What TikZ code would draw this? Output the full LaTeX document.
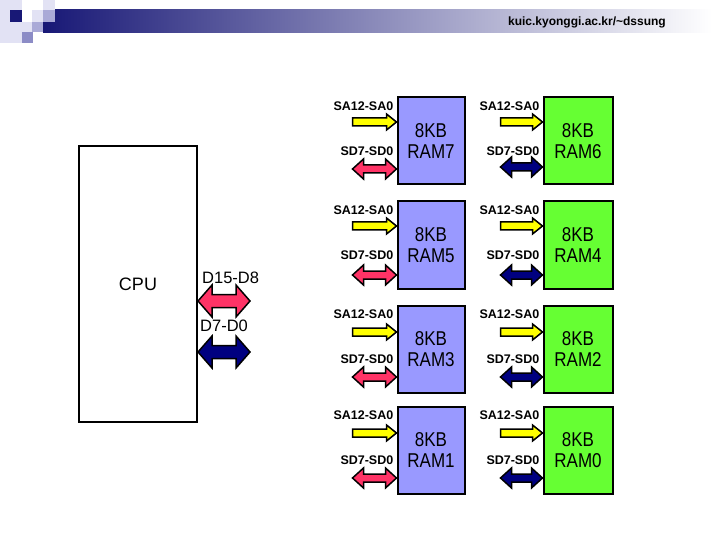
\documentclass[tikz,border=0pt]{standalone}
\usepackage{fontspec}
\setmainfont{Liberation Sans}
\newfontfamily\ramfont[FakeStretch=0.85]{Liberation Sans}
\usetikzlibrary{calc}
\definecolor{ramBlue}{RGB}{153,153,255}
\definecolor{ramGreen}{RGB}{102,255,51}
\definecolor{busYellow}{RGB}{255,255,0}
\definecolor{busRed}{RGB}{255,51,102}
\definecolor{busNavy}{RGB}{0,0,128}
\definecolor{headNavy}{RGB}{24,24,118}
\definecolor{tileLight}{RGB}{226,226,244}
\definecolor{tileMid}{RGB}{170,170,215}
\definecolor{tileDark}{RGB}{140,140,198}

\tikzset{
  fatbus/.style n args={3}{draw=black, line width=1.5pt, line join=miter,
    to path={let \p1=(\tikztostart), \p2=(\tikztotarget) in
      (\x1,\y1) -- (\x1+#3,\y1+#2) -- (\x1+#3,\y1+#1) -- (\x2-#3,\y1+#1) -- (\x2-#3,\y1+#2)
      -- (\x2,\y1) -- (\x2-#3,\y1-#2) -- (\x2-#3,\y1-#1) -- (\x1+#3,\y1-#1) -- (\x1+#3,\y1-#2) -- cycle}},
  databus/.style={fatbus={4pt}{10pt}{11pt}},
  cpubus/.style={fatbus={6.5pt}{16pt}{14pt}},
  addrbus/.style={draw=black, line width=1.5pt, line join=miter, fill=busYellow,
    to path={let \p1=(\tikztostart), \p2=(\tikztotarget) in
      (\x1,\y1+4pt) -- (\x2-10pt,\y1+4pt) -- (\x2-10pt,\y1+8pt) -- (\x2,\y1)
      -- (\x2-10pt,\y1-8pt) -- (\x2-10pt,\y1-4pt) -- (\x1,\y1-4pt) -- cycle}},
  ram/.style={draw=black, line width=2pt, minimum width=67pt, minimum height=87pt, align=center,
    font=\ramfont\fontsize{20}{21}\selectfont},
  lbl/.style={font=\bfseries\fontsize{12.5}{13}\selectfont, inner sep=0pt, anchor=east}
}

\begin{document}
\begin{tikzpicture}[x=1pt, y=-1pt]
  \useasboundingbox (0,0) rectangle (720,540);

  % Title bar
  \shade[left color=headNavy, right color=white] (43,10) rectangle (712,33);
  \fill[tileLight] (0,0) rectangle (22,43);
  \fill[headNavy] (10,10) rectangle (22,22);
  \fill[tileLight] (32,10) rectangle (43,22);
  \fill[tileLight] (43,0) rectangle (55,10);
  \fill[tileMid] (43,10) rectangle (55,22);
  \fill[tileLight] (22,22) rectangle (32,32);
  \fill[tileMid] (32,22) rectangle (43,32);
  \fill[tileDark] (22,32) rectangle (33,43);
  \node[font=\bfseries\fontsize{12}{12}\selectfont, anchor=east, inner sep=0pt] (url) at (666,22) {kuic.kyonggi.ac.kr/\textasciitilde dssung};

  % CPU
  \node[draw=black, line width=2pt, minimum width=118pt, minimum height=276pt, font=\fontsize{18}{18}\selectfont] (cpu) at (138,284) {CPU};
  \node[font=\fontsize{16.5}{17}\selectfont, anchor=west, inner sep=0pt] (hibyte) at ([xshift=4pt,yshift=6pt]cpu.east) {D15-D8};
  \node[font=\fontsize{16.5}{17}\selectfont, anchor=west, inner sep=0pt] (lobyte) at ([xshift=2pt,yshift=-42pt]cpu.east) {D7-D0};
  \path[cpubus, fill=busRed] ([yshift=-17pt]cpu.east) to ([xshift=52pt,yshift=-17pt]cpu.east);
  \path[cpubus, fill=busNavy] ([yshift=-68pt]cpu.east) to ([xshift=52pt,yshift=-68pt]cpu.east);

  % RAM boxes
  \node[ram, fill=ramBlue] (ram7) at (431,141) {8KB\\RAM7};
  \node[ram, fill=ramGreen, minimum width=69pt] (ram6) at (578,141) {8KB\\RAM6};
  \node[ram, fill=ramBlue] (ram5) at (431,245) {8KB\\RAM5};
  \node[ram, fill=ramGreen, minimum width=69pt] (ram4) at (578,245) {8KB\\RAM4};
  \node[ram, fill=ramBlue] (ram3) at (431,349) {8KB\\RAM3};
  \node[ram, fill=ramGreen, minimum width=69pt] (ram2) at (578,349) {8KB\\RAM2};
  \node[ram, fill=ramBlue] (ram1) at (431,450) {8KB\\RAM1};
  \node[ram, fill=ramGreen, minimum width=69pt] (ram0) at (578,450) {8KB\\RAM0};

  % Bus labels
  \node[lbl] (sa7) at ([xshift=-3pt,yshift=35pt]ram7.west) {SA12-SA0};
  \node[lbl] (sd7) at ([xshift=-3pt,yshift=-10pt]ram7.west) {SD7-SD0};
  \node[lbl] (sa6) at ([xshift=-3pt,yshift=35pt]ram6.west) {SA12-SA0};
  \node[lbl] (sd6) at ([xshift=-3pt,yshift=-10pt]ram6.west) {SD7-SD0};
  \node[lbl] (sa5) at ([xshift=-3pt,yshift=35pt]ram5.west) {SA12-SA0};
  \node[lbl] (sd5) at ([xshift=-3pt,yshift=-10pt]ram5.west) {SD7-SD0};
  \node[lbl] (sa4) at ([xshift=-3pt,yshift=35pt]ram4.west) {SA12-SA0};
  \node[lbl] (sd4) at ([xshift=-3pt,yshift=-10pt]ram4.west) {SD7-SD0};
  \node[lbl] (sa3) at ([xshift=-3pt,yshift=35pt]ram3.west) {SA12-SA0};
  \node[lbl] (sd3) at ([xshift=-3pt,yshift=-10pt]ram3.west) {SD7-SD0};
  \node[lbl] (sa2) at ([xshift=-3pt,yshift=35pt]ram2.west) {SA12-SA0};
  \node[lbl] (sd2) at ([xshift=-3pt,yshift=-10pt]ram2.west) {SD7-SD0};
  \node[lbl] (sa1) at ([xshift=-3pt,yshift=35pt]ram1.west) {SA12-SA0};
  \node[lbl] (sd1) at ([xshift=-3pt,yshift=-10pt]ram1.west) {SD7-SD0};
  \node[lbl] (sa0) at ([xshift=-3pt,yshift=35pt]ram0.west) {SA12-SA0};
  \node[lbl] (sd0) at ([xshift=-3pt,yshift=-10pt]ram0.west) {SD7-SD0};

  % Address and data arrows
  \path[addrbus] ([xshift=-44pt,yshift=19pt]ram7.west) to ([yshift=19pt]ram7.west);
  \path[databus, fill=busRed] ([xshift=-44pt,yshift=-28pt]ram7.west) to ([yshift=-28pt]ram7.west);
  \path[addrbus] ([xshift=-42pt,yshift=19pt]ram6.west) to ([yshift=19pt]ram6.west);
  \path[databus, fill=busNavy] ([xshift=-42pt,yshift=-26pt]ram6.west) to ([yshift=-26pt]ram6.west);
  \path[addrbus] ([xshift=-44pt,yshift=19pt]ram5.west) to ([yshift=19pt]ram5.west);
  \path[databus, fill=busRed] ([xshift=-44pt,yshift=-30pt]ram5.west) to ([yshift=-30pt]ram5.west);
  \path[addrbus] ([xshift=-42pt,yshift=19pt]ram4.west) to ([yshift=19pt]ram4.west);
  \path[databus, fill=busNavy] ([xshift=-42pt,yshift=-30pt]ram4.west) to ([yshift=-30pt]ram4.west);
  \path[addrbus] ([xshift=-44pt,yshift=17pt]ram3.west) to ([yshift=17pt]ram3.west);
  \path[databus, fill=busRed] ([xshift=-44pt,yshift=-28pt]ram3.west) to ([yshift=-28pt]ram3.west);
  \path[addrbus] ([xshift=-42pt,yshift=17pt]ram2.west) to ([yshift=17pt]ram2.west);
  \path[databus, fill=busNavy] ([xshift=-42pt,yshift=-28pt]ram2.west) to ([yshift=-28pt]ram2.west);
  \path[addrbus] ([xshift=-44pt,yshift=17pt]ram1.west) to ([yshift=17pt]ram1.west);
  \path[databus, fill=busRed] ([xshift=-44pt,yshift=-28pt]ram1.west) to ([yshift=-28pt]ram1.west);
  \path[addrbus] ([xshift=-42pt,yshift=17pt]ram0.west) to ([yshift=17pt]ram0.west);
  \path[databus, fill=busNavy] ([xshift=-42pt,yshift=-28pt]ram0.west) to ([yshift=-28pt]ram0.west);
\end{tikzpicture}
\end{document}
